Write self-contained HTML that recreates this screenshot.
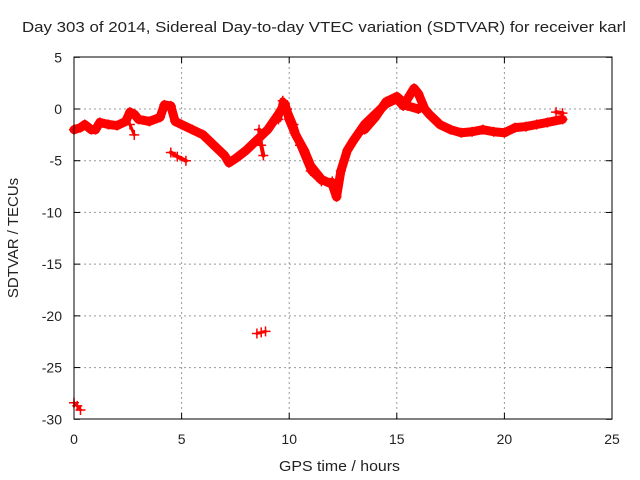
<!DOCTYPE html>
<html><head><meta charset="utf-8"><style>
body{margin:0;background:#fff}
svg{display:block;font-family:"Liberation Sans",sans-serif;font-size:14px}
text{fill:#222}
</style></head><body>
<svg id="chart" width="640" height="480" viewBox="0 0 640 480">
<rect width="640" height="480" fill="#fff"/>
<text x="22" y="32" textLength="604" lengthAdjust="spacingAndGlyphs" style="font-size:15px">Day 303 of 2014, Sidereal Day-to-day VTEC variation (SDTVAR) for receiver karl</text>
<text x="279" y="471" textLength="121" lengthAdjust="spacingAndGlyphs" style="font-size:15px">GPS time / hours</text>
<text transform="translate(18,238) rotate(-90)" text-anchor="middle" style="font-size:15px">SDTVAR / TECUs</text>
<g id="grid"></g><g id="ticks"></g><g id="series"></g>
<rect x="74" y="57" width="538" height="362" fill="none" stroke="#000" stroke-width="1"/>
</svg>
<script>
const xTicks=[0,5,10,15,20,25];
const yTicks=[5,0,-5,-10,-15,-20,-25,-30];
const mainT=[0,0.3,0.5,0.8,1,1.2,1.6,2,2.4,2.6,2.8,3,3.5,4,4.2,4.5,4.7,5,5.5,6,6.5,7,7.2,7.5,8,8.5,9,9.5,9.8,10,10.3,10.7,11,11.5,12,12.2,12.4,12.7,13,13.5,14,14.5,15,15.3,15.8,16,16.3,16.5,17,17.5,18,18.5,19,19.5,20,20.5,21,21.5,22,22.7];
const mainV=[-2,-1.8,-1.5,-2,-2,-1.3,-1.5,-1.6,-1.2,-0.3,-0.5,-1,-1.2,-0.8,0.4,0.3,-1.2,-1.5,-2,-2.5,-3.5,-4.5,-5.2,-4.8,-4,-3,-2,-0.5,0.5,-1,-2.5,-4,-5.5,-6.8,-7.3,-8.5,-6,-4,-3,-1.5,-0.5,0.5,1,0.3,2,1.5,0,-0.5,-1.5,-2,-2.3,-2.2,-2,-2.2,-2.3,-1.8,-1.7,-1.5,-1.3,-1.0];
const band2T=[13.5,14,14.5,15,15.5,16];
const band2V=[-2,-0.8,0.7,1.2,0.3,0];
const band3T=[9.5,9.7,9.9,10.2,10.5,11,11.5,12];
const band3V=[-1,0.8,0,-1.5,-3.5,-6,-7,-7];
const seg4T=[4.5,4.8,5.2];
const seg4V=[-4.2,-4.6,-5];
const seg5T=[2.6,2.8];
const seg5V=[-1.5,-2.5];
const seg6T=[8.6,8.7,8.8];
const seg6V=[-2,-3.5,-4.5];
const seg7T=[22.4,22.7];
const seg7V=[-0.3,-0.4];
const seg8T=[8.5,8.7,8.9];
const seg8V=[-21.7,-21.6,-21.5];
const seg9T=[0,0.15,0.3];
const seg9V=[-28.4,-28.7,-29.1];
const X=t=>74+t*(538/25);
const Y=v=>109-v*(362/35);
const ns="http://www.w3.org/2000/svg";
const grid=document.getElementById('grid'),ticks=document.getElementById('ticks'),ser=document.getElementById('series');
function mk(tag,attrs,parent){const e=document.createElementNS(ns,tag);for(const k in attrs)e.setAttribute(k,attrs[k]);parent.appendChild(e);return e;}
xTicks.forEach(t=>{const x=X(t);
 if(t>0&&t<25){const g=mk('line',{x1:x,x2:x,y1:57,y2:419,stroke:'#999','stroke-dasharray':'2,3'},grid);
 
 }
 mk('line',{x1:x,x2:x,y1:419,y2:413,stroke:'#000'},ticks);mk('line',{x1:x,x2:x,y1:57,y2:63,stroke:'#000'},ticks);
 const l=mk('text',{x:x,y:444,'text-anchor':'middle'},ticks);l.textContent=t;
 
 });
yTicks.forEach(v=>{const y=Y(v);
 if(v<5&&v>-30){const g=mk('line',{x1:74,x2:612,y1:y,y2:y,stroke:'#999','stroke-dasharray':'2,3'},grid);
 
 }
 mk('line',{x1:74,x2:80,y1:y,y2:y,stroke:'#000'},ticks);mk('line',{x1:612,x2:606,y1:y,y2:y,stroke:'#000'},ticks);
 const l=mk('text',{x:62,y:y+5,'text-anchor':'end'},ticks);l.textContent=v;
 
 });
function series(T,V,name,w){
 const g=mk('g',{},ser);
 
 
 const pts=T.map((t,i)=>X(t)+','+Y(V[i])).join(' ');
 mk('polyline',{points:pts,fill:'none',stroke:'#f00','stroke-width':w,'stroke-linejoin':'round','stroke-linecap':'round'},g);
 T.forEach((t,i)=>{const x=X(t),y=Y(V[i]);
  mk('path',{d:`M${x-5},${y}h10M${x},${y-5}v10`,stroke:'#f00','stroke-width':1.5},g);});
}
series(mainT,mainV,'sdtvar-main-series',9);
series(band2T,band2V,'sdtvar-band-15h',9);
series(band3T,band3V,'sdtvar-band-10h',7);
series(seg4T,seg4V,'sdtvar-segment-5h',4);
series(seg5T,seg5V,'sdtvar-segment-3h',3);
series(seg6T,seg6V,'sdtvar-segment-9h',4);
series(seg7T,seg7V,'sdtvar-segment-22h',4);
series(seg8T,seg8V,'sdtvar-outlier-21',3);
series(seg9T,seg9V,'sdtvar-outlier-29',3);
</script>
</body></html>
